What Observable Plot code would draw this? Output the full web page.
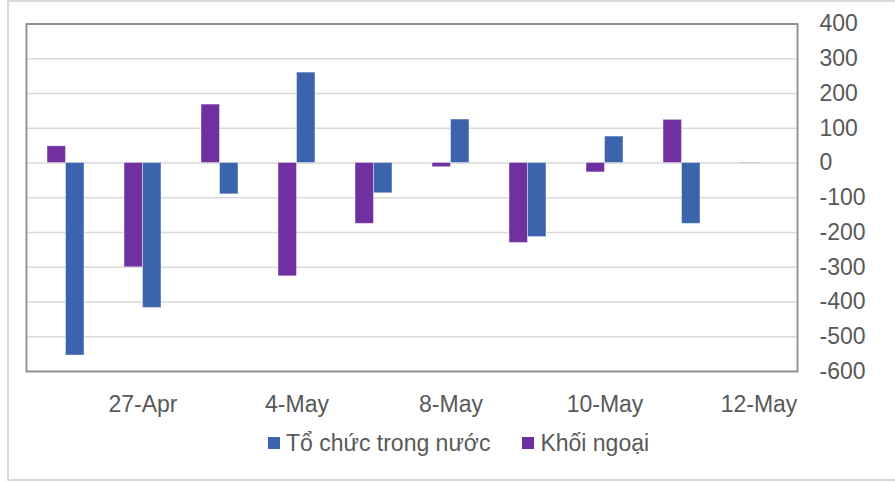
<!DOCTYPE html>
<html>
<head>
<meta charset="utf-8">
<script src="https://cdn.jsdelivr.net/npm/d3@7"></script>
<script src="https://cdn.jsdelivr.net/npm/@observablehq/plot@0.6"></script>
<style>
  html, body { margin: 0; padding: 0; background: #fff; }
  #wrap { position: relative; width: 895px; height: 483px; overflow: hidden; font-family: "Liberation Sans", Arial, sans-serif; }
  #outer { position: absolute; left: 7px; top: 0px; width: 900px; height: 477px; border: 2px solid #d9d9d9; box-sizing: content-box; }
  #chart { position: absolute; left: 0; top: 0; }
  #legend { position: absolute; left: 268px; top: 430px; display: flex; align-items: center; color: #595959; font-size: 23px; line-height: 26px; white-space: nowrap; }
  .item { display: flex; align-items: center; }
  .sw { width: 12px; height: 12px; margin-right: 6px; }
</style>
</head>
<body>
<div id="wrap">
  <div id="outer"></div>
  <div id="chart"></div>
  <div id="legend"></div>
</div>
<script>
// Categories (trading days)
const dates = ["26-Apr","27-Apr","28-Apr","4-May","5-May","8-May","9-May","10-May","11-May","12-May"];
// Series values
const khoiNgoai = [48, -300, 168, -326, -175, -12, -230, -27, 124, 1];
const toChucTrongNuoc = [-554, -417, -90, 260, -87, 125, -213, 76, -175, 0];
// Axis ticks
const yTicks = [400, 300, 200, 100, 0, -100, -200, -300, -400, -500, -600];
const xTickLabels = ["27-Apr","4-May","8-May","10-May","12-May"];
// Series names and colours
const seriesNames = ["Tổ chức trong nước", "Khối ngoại"];
const seriesColors = ["#3B64AD", "#7030A0"];

const rowsKN = dates.map((d, i) => ({date: d, value: khoiNgoai[i]}));
const rowsTC = dates.map((d, i) => ({date: d, value: toChucTrongNuoc[i]}));

const W = 895, H = 428;
const mL = 26, mR = 98, mT = 23.5, mB = H - 371;
const step = (W - mL - mR) / dates.length;
const barW = step * 0.24;
const half = step / 2;

const chart = Plot.plot({
  width: W,
  height: H,
  marginLeft: mL,
  marginRight: mR,
  marginTop: mT,
  marginBottom: mB,
  style: { fontFamily: "'Liberation Sans', Arial, sans-serif", fontSize: "23px", color: "#595959", background: "transparent" },
  x: { domain: dates, padding: 0, label: null },
  y: { domain: [-600, 400], label: null },
  marks: [
    Plot.ruleY(yTicks, { stroke: "#d9d9d9", strokeWidth: 1.6 }),
    Plot.barY(rowsKN, { x: "date", y: "value", fill: seriesColors[1], insetLeft: half - barW, insetRight: half, stroke: "#ffffff", strokeOpacity: 0.35, strokeWidth: 1 }),
    Plot.barY(rowsTC, { x: "date", y: "value", fill: seriesColors[0], insetLeft: half, insetRight: half - barW, stroke: "#ffffff", strokeOpacity: 0.35, strokeWidth: 1 }),
    Plot.frame({ stroke: "#8c8c8c", strokeWidth: 1.8 }),
    Plot.axisY({ anchor: "right", ticks: yTicks, tickSize: 0, tickPadding: 22, textAnchor: "start", fill: "#595959", label: null,
                 tickFormat: d => String(d) }),
    Plot.axisX({ anchor: "bottom", tickSize: 0, tickPadding: 24, fill: "#595959", label: null,
                 tickFormat: d => xTickLabels.includes(d) ? d : "" })
  ]
});
document.getElementById("chart").appendChild(chart);

const legend = document.getElementById("legend");
seriesNames.forEach((name, i) => {
  const item = document.createElement("div");
  item.className = "item";
  if (i > 0) item.style.marginLeft = "32px";
  const sw = document.createElement("div");
  sw.className = "sw";
  sw.style.background = seriesColors[i];
  const t = document.createElement("span");
  t.textContent = name;
  item.appendChild(sw);
  item.appendChild(t);
  legend.appendChild(item);
});
</script>
</body>
</html>
